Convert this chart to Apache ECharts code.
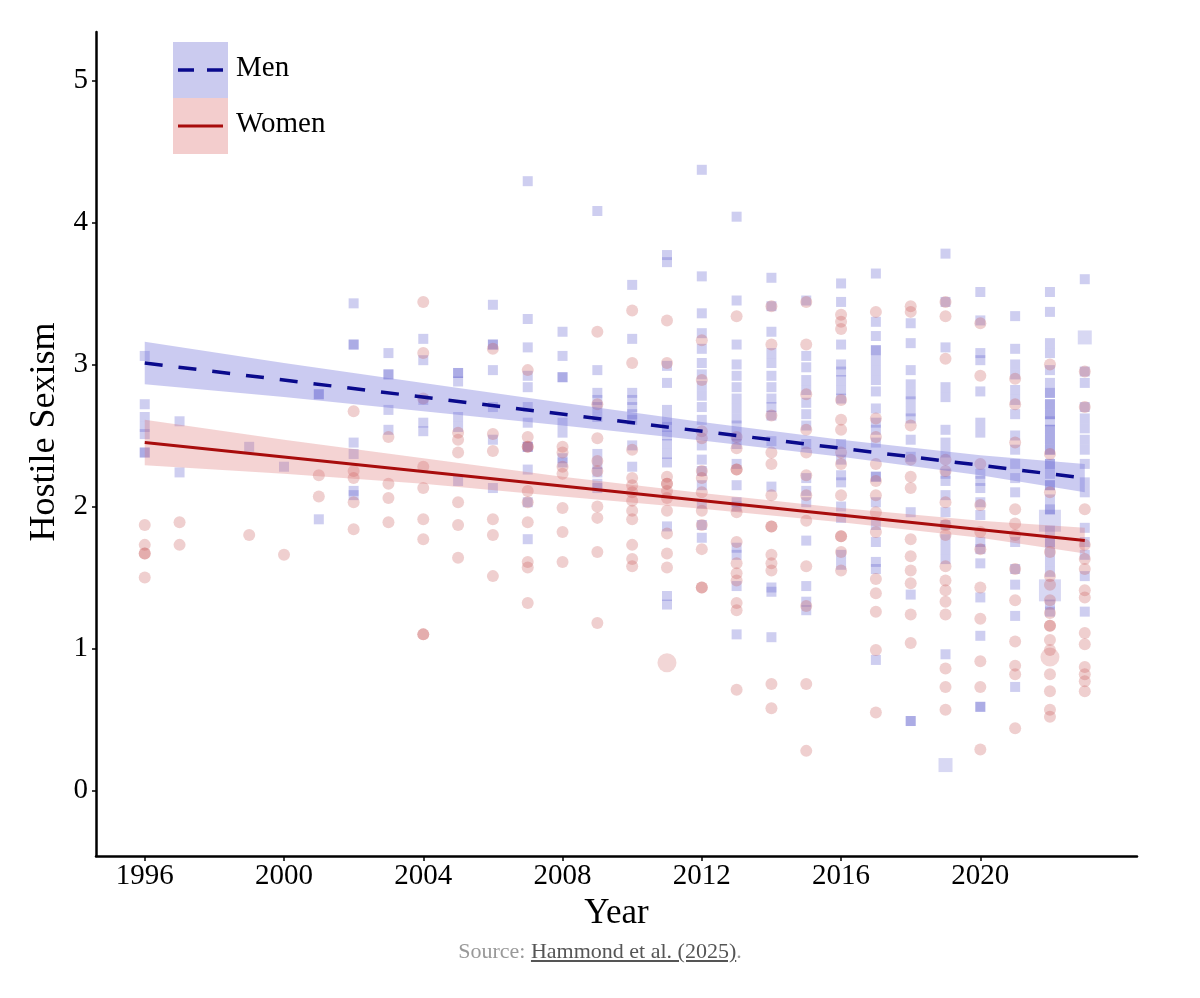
<!DOCTYPE html>
<html>
<head>
<meta charset="utf-8">
<script src="https://cdn.jsdelivr.net/npm/echarts@6/dist/echarts.min.js"></script>
<style>
  html, body { margin: 0; padding: 0; background: #fff; }
  #wrap { position: relative; width: 1200px; height: 998px; }
  #chart { width: 1200px; height: 998px; }
  .source {
    position: absolute; left: 0; width: 1200px; top: 938px; text-align: center;
    font-family: 'Liberation Serif', serif; font-size: 22px; color: #999;
  }
  .source a { color: #555; text-decoration: underline; }
</style>
</head>
<body>
<div id="wrap">
  <div id="chart"></div>
  <div class="source">Source: <a>Hammond et al. (2025)</a>.</div>
</div>
<script>
// survey years and hostile sexism scores per sample
const years = [1996, 1997, 1999, 2000, 2001, 2002, 2003, 2004, 2005, 2006, 2007, 2008, 2009,
  2010, 2011, 2012, 2013, 2014, 2015, 2016, 2017, 2018, 2019, 2020, 2021, 2022, 2023];

const menScores = [
  [3.06, 2.72, 2.63, 2.56, 2.51, 2.38, 2.38],
  [2.60, 2.24],
  [2.42],
  [2.28],
  [2.79, 2.79, 1.91],
  [3.43, 3.14, 3.14, 2.45, 2.37, 2.11, 2.08],
  [3.08, 2.93, 2.93, 2.68, 2.54],
  [3.18, 3.03, 2.75, 2.59, 2.53],
  [2.94, 2.94, 2.88, 2.63, 2.56, 2.18],
  [3.42, 3.14, 3.14, 2.96, 2.70, 2.47, 2.13],
  [4.29, 3.32, 3.12, 2.92, 2.84, 2.70, 2.59, 2.42, 2.42, 2.26, 2.03, 1.77],
  [3.23, 3.06, 2.91, 2.91, 2.59, 2.52, 2.34, 2.31],
  [4.08, 2.96, 2.80, 2.75, 2.70, 2.63, 2.37, 2.30, 2.24, 2.16, 2.13],
  [3.56, 3.18, 2.80, 2.75, 2.70, 2.65, 2.61, 2.43, 2.28],
  [3.77, 3.72, 2.99, 2.87, 2.68, 2.61, 2.56, 2.50, 2.44, 2.37, 2.31, 1.86, 1.37, 1.31],
  [4.37, 3.62, 3.36, 3.22, 3.11, 3.01, 2.93, 2.85, 2.78, 2.70, 2.61, 2.43, 2.33, 2.25, 2.15, 2.02, 1.87, 1.78],
  [4.04, 3.45, 3.14, 3.00, 2.92, 2.84, 2.76, 2.69, 2.62, 2.57, 2.50, 2.44, 2.30, 2.15, 2.03, 2.00, 1.71, 1.66, 1.44, 1.10],
  [3.61, 3.41, 3.23, 3.08, 3.01, 2.92, 2.84, 2.76, 2.70, 2.64, 2.46, 2.14, 1.43, 1.40, 1.08],
  [3.45, 3.06, 2.98, 2.89, 2.82, 2.73, 2.65, 2.57, 2.44, 2.20, 2.11, 2.03, 1.76, 1.44, 1.33, 1.27],
  [3.57, 3.44, 3.14, 3.00, 2.95, 2.89, 2.82, 2.76, 2.44, 2.33, 2.22, 2.17, 2.00, 1.92, 1.66, 1.59],
  [3.64, 3.30, 3.20, 3.10, 3.10, 3.03, 2.96, 2.89, 2.81, 2.69, 2.59, 2.54, 2.45, 2.21, 2.21, 2.03, 1.87, 1.75, 1.61, 1.56, 0.92],
  [3.29, 3.15, 2.96, 2.86, 2.79, 2.74, 2.67, 2.62, 2.47, 2.35, 1.96, 1.38, 0.49, 0.49],
  [3.78, 3.44, 3.12, 2.84, 2.77, 2.54, 2.45, 2.38, 2.23, 2.18, 2.08, 1.96, 1.87, 1.77, 1.70, 1.63, 0.96],
  [3.51, 3.31, 3.08, 3.03, 2.81, 2.59, 2.52, 2.23, 2.18, 2.13, 2.03, 1.94, 1.75, 1.70, 1.60, 1.36, 1.09, 0.59, 0.59],
  [3.34, 3.11, 3.00, 2.93, 2.82, 2.75, 2.65, 2.50, 2.40, 2.30, 2.20, 2.10, 1.75, 1.56, 1.45, 1.23, 0.73],
  [3.51, 3.37, 3.15, 3.08, 2.96, 2.87, 2.80, 2.80, 2.72, 2.72, 2.65, 2.65, 2.60, 2.54, 2.54, 2.47, 2.47, 2.40, 2.40,
    2.30, 2.30, 2.23, 2.15, 2.15, 2.05, 1.98, 1.98, 1.83, 1.75, 1.75, 1.68, 1.61, 1.54, 1.31, 1.26],
  [3.60, 2.95, 2.87, 2.70, 2.62, 2.55, 2.47, 2.40, 2.30, 2.17, 2.10, 1.85, 1.75, 1.66, 1.51, 1.26]
];

const womenScores = [
  [1.87, 1.73, 1.67, 1.67, 1.50],
  [1.89, 1.73],
  [1.80],
  [1.66],
  [2.22, 2.07],
  [2.67, 2.25, 2.20, 2.03, 1.84],
  [2.49, 2.16, 2.06, 1.89],
  [3.44, 3.08, 2.76, 2.28, 2.13, 1.91, 1.77, 1.10, 1.10],
  [2.52, 2.47, 2.38, 2.03, 1.87, 1.64],
  [3.11, 2.51, 2.39, 1.91, 1.80, 1.51],
  [2.96, 2.49, 2.42, 2.42, 2.11, 2.03, 1.89, 1.61, 1.57, 1.32],
  [2.42, 2.38, 2.28, 2.23, 1.99, 1.82, 1.61],
  [3.23, 2.72, 2.48, 2.32, 2.25, 2.00, 1.92, 1.68, 1.18],
  [3.38, 3.01, 2.40, 2.20, 2.15, 2.10, 2.04, 1.97, 1.91, 1.73, 1.63, 1.58],
  [3.31, 3.01, 2.21, 2.16, 2.16, 2.11, 2.06, 1.97, 1.81, 1.67, 1.57],
  [3.17, 2.89, 2.53, 2.48, 2.25, 2.20, 2.10, 1.97, 1.87, 1.70, 1.43, 1.43],
  [3.34, 2.49, 2.41, 2.26, 2.26, 1.96, 1.75, 1.60, 1.53, 1.48, 1.32, 1.27, 0.71],
  [3.41, 3.14, 2.64, 2.38, 2.30, 2.08, 1.86, 1.86, 1.66, 1.60, 1.55, 0.75, 0.58],
  [3.44, 3.14, 2.79, 2.54, 2.38, 2.22, 2.08, 1.90, 1.58, 1.30, 0.75, 0.28],
  [3.35, 3.30, 3.25, 2.75, 2.61, 2.54, 2.38, 2.30, 2.08, 1.79, 1.79, 1.68, 1.55],
  [3.37, 2.62, 2.49, 2.30, 2.18, 2.08, 1.96, 1.82, 1.49, 1.39, 1.26, 0.99, 0.55],
  [3.41, 3.37, 2.57, 2.33, 2.21, 2.13, 1.77, 1.65, 1.55, 1.46, 1.24, 1.04],
  [3.44, 3.34, 3.04, 2.33, 2.25, 2.03, 1.87, 1.80, 1.58, 1.48, 1.41, 1.33, 1.24, 0.86, 0.73, 0.57],
  [3.29, 2.92, 2.30, 2.01, 1.82, 1.70, 1.43, 1.21, 0.91, 0.73, 0.29],
  [2.90, 2.72, 2.45, 1.98, 1.88, 1.80, 1.56, 1.34, 1.05, 0.88, 0.82, 0.44],
  [3.00, 2.37, 2.10, 1.68, 1.51, 1.45, 1.34, 1.25, 1.16, 1.16, 1.06, 0.99, 0.82, 0.70, 0.57, 0.52],
  [2.95, 2.70, 1.98, 1.73, 1.63, 1.56, 1.41, 1.36, 1.11, 1.03, 0.87, 0.82, 0.77, 0.70]
];

// samples drawn with bigger markers (larger n)
const menBig = [[2022, 1.90], [2022, 1.41]];
const menMid = [[2019, 0.18], [2023, 3.19]];
const womenBig = [[2011, 0.90], [2022, 0.94]];

// fitted trend lines and 95% bands
const menFit = [[1996, 3.01], [2023, 2.20]];
const womenFit = [[1996, 2.45], [2023, 1.76]];
const bandYears = [1996, 2000, 2004, 2008, 2012, 2016, 2020, 2023];
const menLower = [2.86, 2.77, 2.67, 2.57, 2.465, 2.35, 2.22, 2.10];
const menUpper = [3.16, 3.01, 2.87, 2.73, 2.595, 2.47, 2.36, 2.30];
const womenLower = [2.29, 2.23, 2.16, 2.07, 1.985, 1.89, 1.78, 1.67];
const womenUpper = [2.61, 2.47, 2.34, 2.21, 2.095, 1.99, 1.90, 1.85];

const xTicks = [1996, 2000, 2004, 2008, 2012, 2016, 2020];
const yTicks = [0, 1, 2, 3, 4, 5];

const serif = "'Liberation Serif', 'DejaVu Serif', serif";

function flatten(scores) {
  var out = [];
  scores.forEach(function (list, i) {
    list.forEach(function (v) { out.push([years[i], v]); });
  });
  return out;
}

function bandSeries(lower, upper, fill) {
  return {
    type: 'custom',
    z: 3,
    silent: true,
    data: bandYears.map(function (y, i) { return [y, lower[i], upper[i]]; }),
    encode: { x: 0, y: [1, 2] },
    renderItem: function (params, api) {
      if (params.dataIndex !== 0) return null;
      var pts = [];
      for (var i = 0; i < bandYears.length; i++) pts.push(api.coord([bandYears[i], upper[i]]));
      for (var j = bandYears.length - 1; j >= 0; j--) pts.push(api.coord([bandYears[j], lower[j]]));
      return { type: 'polygon', shape: { points: pts }, style: { fill: fill } };
    }
  };
}

const menColor = 'rgba(95, 95, 205, 0.38)';
const womenColor = 'rgba(200, 88, 88, 0.36)';

const chart = echarts.init(document.getElementById('chart'));
const option = {
  animation: false,
  grid: { left: 96, right: 63, top: 32, bottom: 142 },
  xAxis: {
    type: 'value',
    min: 1994.6,
    max: 2024.5,
    name: 'Year',
    nameLocation: 'middle',
    nameGap: 32,
    nameTextStyle: { fontFamily: serif, fontSize: 35, color: '#000' },
    axisLine: { show: true, onZero: false, lineStyle: { color: '#000', width: 2.5 } },
    axisTick: { show: true, length: 5, customValues: xTicks, lineStyle: { color: '#000', width: 1.5 } },
    axisLabel: {
      customValues: xTicks, margin: 6, fontFamily: serif, fontSize: 29, color: '#000',
      formatter: function (v) { return String(v); }
    },
    splitLine: { show: false }
  },
  yAxis: {
    type: 'value',
    min: -0.46,
    max: 5.34,
    name: 'Hostile Sexism',
    nameLocation: 'middle',
    nameGap: 26,
    nameTextStyle: { fontFamily: serif, fontSize: 36, color: '#000', padding: [0, 0, 0, 24] },
    axisLine: { show: true, onZero: false, lineStyle: { color: '#000', width: 2.5 } },
    axisTick: { show: true, length: 4, customValues: yTicks, lineStyle: { color: '#000', width: 1.5 } },
    axisLabel: { customValues: yTicks, margin: 8, fontFamily: serif, fontSize: 29, color: '#000' },
    splitLine: { show: false }
  },
  series: [
    {
      name: 'Men points', type: 'scatter', symbol: 'rect', symbolSize: 10, z: 2,
      itemStyle: { color: menColor }, data: flatten(menScores)
    },
    {
      name: 'Men big', type: 'scatter', symbol: 'rect', symbolSize: 22, z: 2,
      itemStyle: { color: 'rgba(95, 95, 205, 0.3)' }, data: menBig
    },
    {
      name: 'Men mid', type: 'scatter', symbol: 'rect', symbolSize: 14, z: 2,
      itemStyle: { color: 'rgba(95, 95, 205, 0.3)' }, data: menMid
    },
    {
      name: 'Women points', type: 'scatter', symbol: 'circle', symbolSize: 12, z: 2,
      itemStyle: { color: womenColor }, data: flatten(womenScores)
    },
    {
      name: 'Women big', type: 'scatter', symbol: 'circle', symbolSize: 19, z: 2,
      itemStyle: { color: 'rgba(200, 88, 88, 0.3)' }, data: womenBig
    },
    bandSeries(menLower, menUpper, 'rgba(110, 110, 215, 0.36)'),
    bandSeries(womenLower, womenUpper, 'rgba(220, 110, 110, 0.3)'),
    {
      name: 'Men', type: 'line', z: 5, symbol: 'none', silent: true,
      lineStyle: { color: '#0a0a8c', width: 3.5, type: [18, 16] }, data: menFit
    },
    {
      name: 'Women', type: 'line', z: 5, symbol: 'none', silent: true,
      lineStyle: { color: '#a80c0c', width: 3 }, data: womenFit
    }
  ],
  // legend: shaded boxes with the line key, as in the figure
  graphic: [
    { type: 'rect', left: 173, top: 42, shape: { width: 55, height: 56 }, style: { fill: '#cbcbef' } },
    { type: 'rect', left: 173, top: 98, shape: { width: 55, height: 56 }, style: { fill: '#f3cdcd' } },
    { type: 'line', shape: { x1: 178, y1: 70, x2: 223, y2: 70 },
      style: { stroke: '#0a0a8c', lineWidth: 3.5, lineDash: [16, 13] } },
    { type: 'line', shape: { x1: 178, y1: 126, x2: 223, y2: 126 },
      style: { stroke: '#a80c0c', lineWidth: 3 } },
    { type: 'text', left: 236, top: 54, style: { text: 'Men', font: '29px ' + serif, fill: '#000' } },
    { type: 'text', left: 236, top: 110, style: { text: 'Women', font: '29px ' + serif, fill: '#000' } }
  ]
};
chart.setOption(option);
</script>
</body>
</html>
